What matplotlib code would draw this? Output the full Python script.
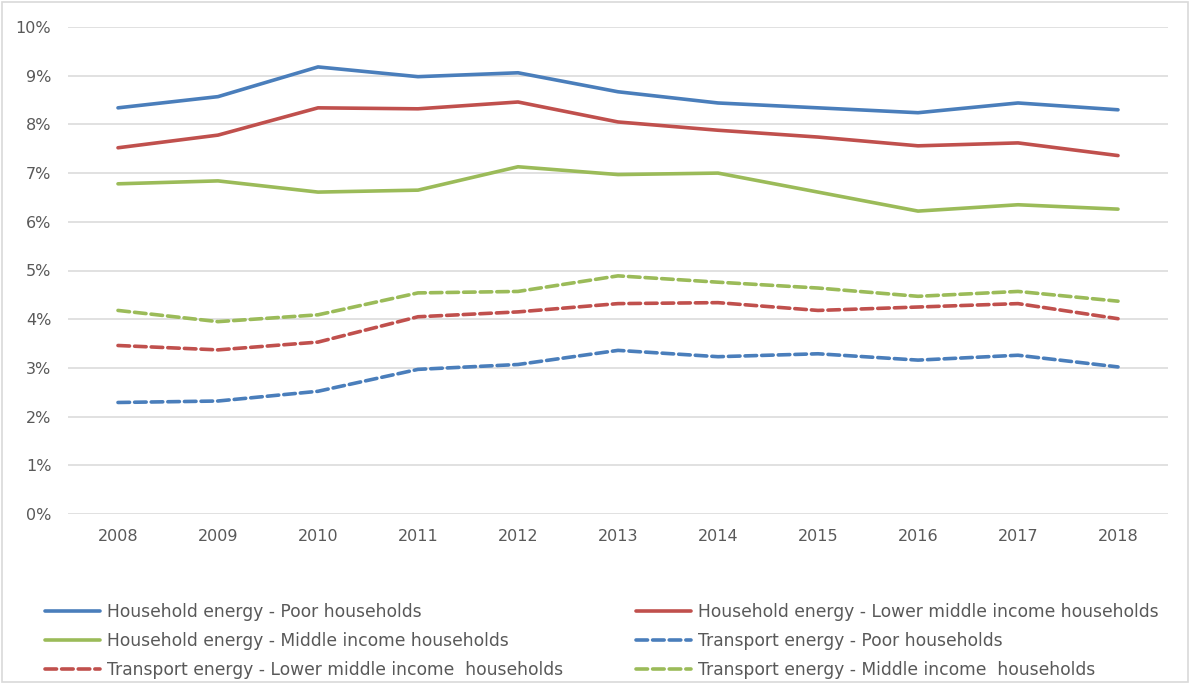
import matplotlib
matplotlib.use("Agg")
import matplotlib.pyplot as plt
from matplotlib.ticker import FuncFormatter
from matplotlib.patches import Rectangle

years = [2008, 2009, 2010, 2011, 2012, 2013, 2014, 2015, 2016, 2017, 2018]

# shares of income spent on energy (%)
he_poor = [8.34, 8.57, 9.18, 8.98, 9.06, 8.67, 8.44, 8.34, 8.24, 8.44, 8.30]
he_lower = [7.52, 7.78, 8.34, 8.32, 8.46, 8.05, 7.88, 7.74, 7.56, 7.62, 7.36]
he_middle = [6.78, 6.84, 6.61, 6.65, 7.13, 6.97, 7.00, 6.61, 6.22, 6.35, 6.26]
te_poor = [2.29, 2.32, 2.52, 2.97, 3.07, 3.36, 3.23, 3.29, 3.16, 3.26, 3.02]
te_lower = [3.46, 3.37, 3.53, 4.05, 4.15, 4.32, 4.34, 4.18, 4.25, 4.32, 4.01]
te_middle = [4.18, 3.95, 4.09, 4.54, 4.57, 4.89, 4.76, 4.64, 4.47, 4.57, 4.37]

labels = ["Household energy - Poor households",
          "Household energy - Lower middle income households",
          "Household energy - Middle income households",
          "Transport energy - Poor households",
          "Transport energy - Lower middle income  households",
          "Transport energy - Middle income  households"]

blue = "#4a7ebb"
red = "#c0504d"
green = "#9bbb59"

plt.rcParams['font.family'] = ['DejaVu Sans']

fig = plt.figure(figsize=(11.9, 6.84), dpi=100)
ax = fig.add_axes([68/1190, 1 - 514/684, 1100/1190, 487/684])

series = [(he_poor, blue, '-'), (he_lower, red, '-'), (he_middle, green, '-'),
          (te_poor, blue, '--'), (te_lower, red, '--'), (te_middle, green, '--')]
handles = []
for (vals, col, ls), lab in zip(series, labels):
    if ls == '-':
        ln, = ax.plot(years, vals, color=col, lw=2.6, label=lab, solid_capstyle='round')
    else:
        ln, = ax.plot(years, vals, color=col, lw=2.6, label=lab,
                      dashes=(3.2, 1.4), dash_capstyle='round')
    handles.append(ln)

ax.set_xlim(2007.5, 2018.5)
ax.set_ylim(0, 10)
ax.set_yticks(range(0, 11))
ax.yaxis.set_major_formatter(FuncFormatter(lambda v, p: "%d%%" % v))
ax.set_xticks(years)
ax.grid(axis='y', color='#d9d9d9', lw=1.1)
ax.set_axisbelow(True)
for s in ax.spines.values():
    s.set_visible(False)
ax.tick_params(length=0, colors='#595959', labelsize=11.5)
ax.tick_params(axis='y', pad=12)
ax.tick_params(axis='x', pad=11)

# legend in two columns
leg_kw = dict(loc='upper left', frameon=False, fontsize=12.3, handlelength=3.2,
              handletextpad=0.4, labelspacing=0.62, labelcolor='#595959')
fig.legend([handles[i] for i in (0, 2, 4)], [labels[i] for i in (0, 2, 4)],
           bbox_to_anchor=(30/1190, 1 - 588/684), **leg_kw)
fig.legend([handles[i] for i in (1, 3, 5)], [labels[i] for i in (1, 3, 5)],
           bbox_to_anchor=(621/1190, 1 - 588/684), **leg_kw)

fig.patches.append(Rectangle((0.002, 0.003), 0.996, 0.994, transform=fig.transFigure,
                             fill=False, edgecolor='#d9d9d9', lw=1.2))

fig.savefig("out.png", dpi=100)
